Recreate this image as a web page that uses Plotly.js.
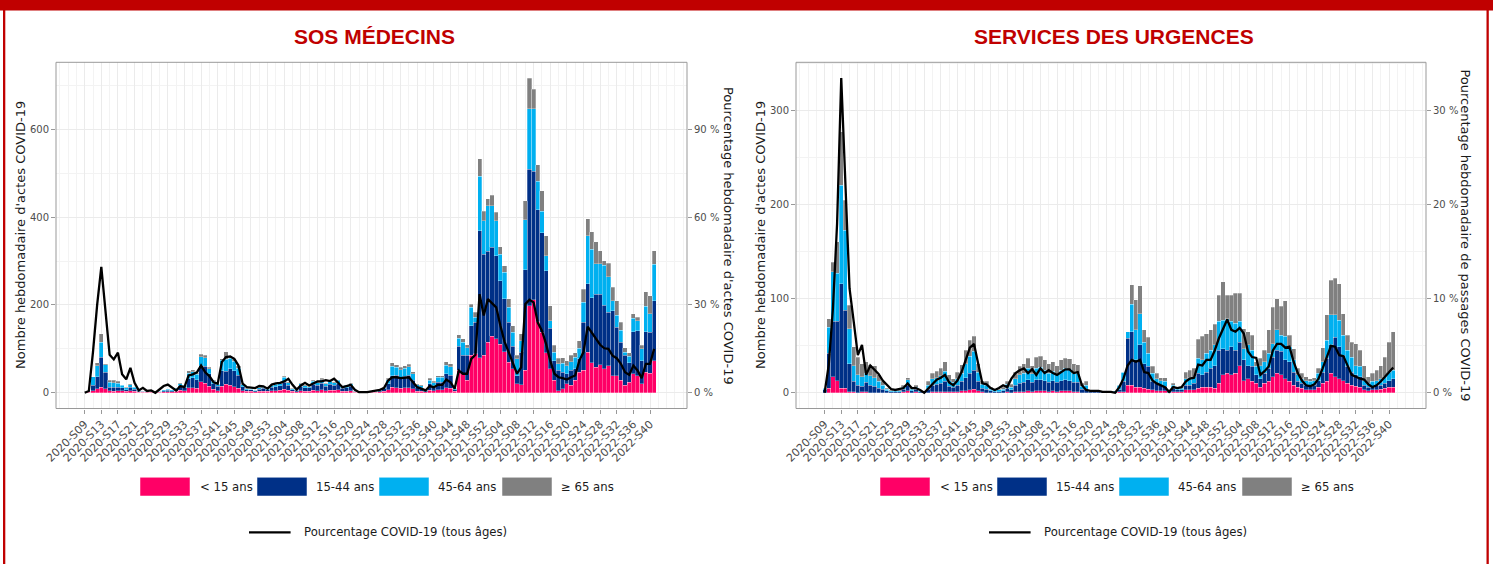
<!DOCTYPE html>
<html><head><meta charset="utf-8">
<script src="https://cdn.plot.ly/plotly-3.0.1.min.js"></script>
<style>html,body{margin:0;padding:0;background:#fff}#chart{width:1493px;height:564px}</style>
</head><body><div id="chart"></div>
<script>
// ---------- categories ----------
const weeks = [];
for (let w = 9; w <= 53; w++) weeks.push('2020-S' + String(w).padStart(2, '0'));
for (let w = 1; w <= 52; w++) weeks.push('2021-S' + String(w).padStart(2, '0'));
for (let w = 1; w <= 41; w++) weeks.push('2022-S' + String(w).padStart(2, '0'));

const tickLabels = ['2020-S09','2020-S13','2020-S17','2020-S21','2020-S25','2020-S29','2020-S33','2020-S37','2020-S41','2020-S45','2020-S49','2020-S53',
  '2021-S04','2021-S08','2021-S12','2021-S16','2021-S20','2021-S24','2021-S28','2021-S32','2021-S36','2021-S40','2021-S44','2021-S48','2021-S52',
  '2022-S04','2022-S08','2022-S12','2022-S16','2022-S20','2022-S24','2022-S28','2022-S32','2022-S36','2022-S40'];

const ageGroups = ['< 15 ans', '15-44 ans', '45-64 ans', '≥ 65 ans'];
const lineLabel = 'Pourcentage COVID-19 (tous âges)';

// ---------- SOS Médecins ----------
const sos_lt15 = [0,1,5,9,13,9,5,4,5,5,3,5,3,1,1,1,1,0,1,2,2,2,3,6,5,12,12,10,25,22,15,8,5,15,19,17,14,10,5,3,3,2,3,4,3,5,5,6,8,6,3,2,5,4,4,6,5,7,5,6,6,7,4,4,5,1,1,0,1,1,1,2,3,7,13,12,10,12,12,9,4,4,2,6,5,7,7,11,10,3,51,43,28,85,89,80,85,115,129,123,111,94,70,55,20,18,51,198,212,162,138,91,55,28,5,9,20,17,28,47,51,92,68,58,64,55,62,39,39,28,17,24,43,39,20,47,45,73];
const sos_15_44 = [0,2,12,27,68,38,8,9,8,6,4,8,5,3,2,1,2,1,1,3,4,3,5,10,8,20,22,20,36,38,28,13,10,35,30,38,36,30,9,4,4,3,5,6,4,8,9,10,16,11,4,4,10,8,7,13,12,15,10,13,11,14,6,8,10,2,1,1,1,1,2,4,6,14,26,28,25,26,28,20,9,8,4,14,11,17,17,32,30,4,55,42,57,68,72,289,231,207,202,189,144,120,91,51,19,74,229,311,293,255,227,187,92,45,46,38,23,34,27,30,110,156,149,167,161,144,121,148,110,87,69,44,96,102,53,92,93,137];
const sos_45_64 = [0,0,19,26,34,17,11,10,9,6,4,5,5,2,1,1,1,1,1,2,2,2,2,5,4,13,14,12,21,20,12,5,4,24,27,24,22,16,4,2,1,1,3,3,2,4,5,5,11,6,2,1,5,4,3,7,6,8,5,7,6,7,4,5,5,1,1,1,0,1,1,2,3,9,21,18,17,18,19,14,5,4,2,9,7,11,11,20,19,2,18,30,17,42,11,124,76,104,95,80,61,60,34,32,38,27,114,138,142,65,49,34,17,19,15,20,19,20,26,24,45,110,110,69,69,91,81,23,28,27,6,15,31,23,27,58,42,83];
const sos_ge65 = [0,0,0,6,19,2,4,5,4,1,2,2,1,1,1,0,0,0,0,0,1,0,1,2,1,5,5,3,6,5,3,2,1,4,17,4,5,6,1,1,1,1,1,1,1,1,1,1,3,2,1,1,2,2,1,2,2,3,2,2,2,2,1,1,2,1,0,0,0,0,1,1,1,3,8,6,6,6,6,5,2,2,1,4,3,4,4,8,7,1,8,8,7,7,11,40,22,16,24,19,17,15,19,15,8,15,43,70,45,38,46,46,34,16,13,13,11,14,10,18,30,39,40,50,29,11,31,30,33,19,10,8,10,8,8,33,41,30];
const sos_pct = [0,0.6,14,30,43,28,13,11.4,13.7,6.3,4.6,8.5,3.4,0.8,1.7,0.6,0.8,0,1.1,2.3,2.8,1.7,0.8,2.3,1.9,5.9,6.3,7,9.3,7,5.7,3.6,3.1,10.5,12.2,12.4,11.6,9.3,3.1,1.9,1.8,1.6,2.3,2.2,1.4,2.8,3.2,3.4,3.9,4.8,2.7,1.1,2.5,3.4,2.5,3.1,3.9,3.9,4.3,4,4.8,3.4,1.9,2.3,2.7,1,0.2,0.2,0.2,0.5,0.8,1,1.6,4.2,5.3,5.3,5,5.1,5.3,3.6,1.9,1.4,0.8,2.3,1.9,2.7,2.7,4.5,3.6,1.4,7.6,6.5,6.5,11.6,13,33.7,26.4,32,30.7,29.2,23,17.5,13.9,9.9,6.5,8.7,30.3,31.8,30.9,24,21.2,16.7,11,6.5,5.3,5,4.5,5.3,5.9,11,13.9,22.6,20.4,18.4,16.4,15.2,15,12.7,11.8,9.9,7,6.1,9.3,7.6,5,9.9,9.9,15];

// ---------- Services des urgences ----------
const urg_lt15 = [0,5,17,13,5,5,1,1,0,1,1,0,0,0,0,0,0,0,0,1,2,0,1,0,0,0,1,1,1,1,1,1,1,2,2,3,4,2,1,0,0,0,0,0,1,0,1,1,1,2,1,2,2,2,1,2,1,2,2,2,1,1,0,0,0,0,0,0,0,0,0,1,1,8,8,6,6,5,4,3,2,2,2,0,1,1,1,3,3,3,5,6,6,6,5,10,19,21,19,21,29,13,15,12,10,6,10,12,17,21,19,15,12,8,6,5,3,3,3,6,10,12,21,17,15,13,10,8,7,6,3,2,3,3,4,5,6,6];
const urg_15_44 = [3,37,59,63,111,83,30,11,8,6,10,8,7,5,4,2,1,1,1,3,6,2,3,1,1,4,7,8,9,11,6,5,7,10,14,18,20,10,4,4,2,1,1,2,4,3,7,9,10,12,10,12,12,11,10,11,10,11,12,11,10,10,4,4,1,1,1,1,1,1,1,2,11,50,57,29,45,26,24,9,8,6,5,2,4,2,2,5,5,7,16,13,16,20,24,35,28,24,30,24,25,22,14,16,9,9,11,14,21,24,25,20,21,14,6,5,5,4,5,7,12,25,30,42,34,27,18,14,12,11,5,4,3,5,4,5,7,9];
const urg_45_64 = [2,28,53,51,105,85,37,17,11,10,10,10,9,7,4,2,1,1,1,2,6,2,2,1,0,4,7,7,8,11,6,5,7,9,15,18,20,10,4,4,2,2,2,2,4,3,7,9,10,12,9,12,13,11,10,10,9,11,12,12,10,10,3,4,1,0,0,0,0,0,1,5,10,7,29,32,33,23,14,9,5,5,5,1,3,2,2,7,8,7,16,16,20,19,22,31,30,34,27,29,22,12,22,17,9,14,12,16,14,22,17,25,16,13,7,5,5,5,5,8,11,19,32,24,28,21,17,16,10,11,5,4,6,5,7,7,9,9];
const urg_ge65 = [0,9,10,34,57,32,25,20,19,14,12,12,13,7,4,1,1,0,1,2,2,2,2,1,0,4,6,7,8,10,6,4,7,9,14,17,16,9,4,4,2,1,1,2,3,3,7,9,10,11,9,12,12,11,10,10,9,11,11,11,10,9,3,4,1,0,0,0,0,0,0,0,0,0,21,32,30,13,17,7,6,3,4,0,2,1,1,7,8,9,20,25,21,22,22,28,41,25,28,32,30,21,14,16,5,8,12,25,39,33,31,38,12,12,7,6,4,3,3,5,15,27,37,39,39,23,16,16,23,17,16,7,9,11,14,21,32,41];
const urg_pct = [0,3,9,18,33.5,21.7,11.1,7.6,4,5.1,1.9,2.9,2.5,2,1.3,0.8,0.4,0.3,0.4,0.5,1,0.5,0.5,0.3,0,0.5,1,1.4,1.6,1.9,1.1,0.8,1.3,2.2,3.5,4.8,5.2,3.1,1,0.9,0.5,0.3,0.5,0.8,0.6,1.5,2.1,2.4,2.6,2.1,2.5,1.9,2.6,2.1,2.4,2.1,1.9,2.2,2.5,2.5,2.1,2.2,0.8,0.3,0.2,0.2,0.2,0.1,0.1,0.1,0,0.6,1.5,2.9,3.5,3.3,3.5,2.2,2.1,1.3,1,0.8,0.6,0.1,0.6,0.5,0.6,1.2,1.5,1.6,3,2.9,3.5,3.5,4.5,5.8,6.8,7.8,6.7,6.5,6.9,6.3,4.4,3.8,3.7,1.9,2.3,2.8,4.5,5.2,5.2,4.8,4.9,3.3,2.1,1.3,0.8,0.7,0.9,1.5,2.6,3.9,5,4.9,4,3.9,2.8,1.9,1.7,1.5,1.4,0.9,0.6,0.8,1.2,1.7,2.2,2.7];

// ---------- styling ----------
const ageColors = ['#ff0066', '#003087', '#00b0f0', '#808080'];
const W = 1493, H = 564;
const px = v => v / W;
const py = v => 1 - v / H;
const xs = weeks.map((_, i) => i);
const tickVals = tickLabels.map(l => weeks.indexOf(l));

const panels = [
  { title: 'SOS MÉDECINS', groups: [sos_lt15, sos_15_44, sos_45_64, sos_ge65], pct: sos_pct,
    xa: 'x', ya: 'y', ya2: 'y2', left: 56, right: 687, yRange: [-35.85, 752.85], yDtick: 200, factor: 600 / 90, pDtick: 30,
    yTitle: "Nombre hebdomadaire d'actes COVID-19", pTitle: "Pourcentage hebdomadaire d'actes COVID-19", dx: 0 },
  { title: 'SERVICES DES URGENCES', groups: [urg_lt15, urg_15_44, urg_45_64, urg_ge65], pct: urg_pct,
    xa: 'x2', ya: 'y3', ya2: 'y4', left: 796, right: 1426, yRange: [-16.75, 351.75], yDtick: 100, factor: 10, pDtick: 10,
    yTitle: "Nombre hebdomadaire d'actes COVID-19", pTitle: 'Pourcentage hebdomadaire de passages COVID-19', dx: 740 }
];

const plotTop = 62.3, plotBot = 408.5;
const yTickFont = { family: 'DejaVu Sans', size: 10, color: '#4d4d4d' };
const xTickFont = { family: 'DejaVu Sans', size: 11, color: '#4d4d4d' };
const gridCol = '#ebebeb', minorCol = '#f3f3f3', frameCol = '#999999';
const legendFont = { family: 'DejaVu Sans', size: 11.7, color: '#1a1a1a' };
const axisTitleFont = { family: 'DejaVu Sans', size: 13, color: '#1a1a1a' };

const traces = [];
const layout = {
  width: W, height: H, margin: { l: 0, r: 0, t: 0, b: 0 },
  paper_bgcolor: '#fff', plot_bgcolor: '#fff', barmode: 'stack', bargap: 0,
  showlegend: false, shapes: [], annotations: []
};

panels.forEach((p, k) => {
  p.groups.forEach((vals, g) => {
    traces.push({ type: 'bar', x: xs, y: vals, name: ageGroups[g], xaxis: p.xa, yaxis: p.ya,
      marker: { color: ageColors[g], line: { color: 'rgba(255,255,255,0.55)', width: 0.5 } },
      hoverinfo: 'skip' });
  });
  traces.push({ type: 'scatter', mode: 'lines', x: xs, y: p.pct, name: lineLabel, xaxis: p.xa, yaxis: p.ya2,
    line: { color: '#000', width: 2.3 }, hoverinfo: 'skip' });

  const xKey = k === 0 ? 'xaxis' : 'xaxis2';
  const yKey = k === 0 ? 'yaxis' : 'yaxis3';
  const y2Key = k === 0 ? 'yaxis2' : 'yaxis4';
  layout[xKey] = {
    domain: [px(p.left), px(p.right)], range: [-6.9, 144.9], anchor: p.ya,
    tickmode: 'array', tickvals: tickVals, ticktext: tickLabels, tickangle: -45,
    ticks: 'outside', ticklen: 4, tickwidth: 1, tickcolor: frameCol, tickfont: xTickFont,
    showgrid: true, gridcolor: gridCol, gridwidth: 1, zeroline: false, showline: false,
    minor: { tickmode: 'linear', tick0: 0, dtick: 2, showgrid: true, gridcolor: minorCol, ticks: '' },
    fixedrange: true
  };
  layout[yKey] = {
    domain: [py(plotBot), py(plotTop)], range: p.yRange, anchor: p.xa,
    tickmode: 'linear', tick0: 0, dtick: p.yDtick, ticks: 'outside', ticklen: 4, tickcolor: frameCol,
    tickfont: yTickFont, showgrid: true, gridcolor: gridCol, zeroline: false, showline: false,
    minor: { tickmode: 'linear', tick0: 0, dtick: p.yDtick / 2, showgrid: true, gridcolor: minorCol, ticks: '' },
    fixedrange: true
  };
  layout[y2Key] = {
    overlaying: p.ya, side: 'right', anchor: p.xa,
    range: [p.yRange[0] / p.factor, p.yRange[1] / p.factor],
    tickmode: 'linear', tick0: 0, dtick: p.pDtick, ticksuffix: ' %', ticks: 'outside', ticklen: 4, tickcolor: frameCol,
    tickfont: yTickFont, showgrid: false, zeroline: false, showline: false, fixedrange: true
  };

  // frame
  layout.shapes.push({ type: 'rect', xref: 'paper', yref: 'paper', x0: px(p.left), x1: px(p.right),
    y0: py(plotBot), y1: py(plotTop), line: { color: frameCol, width: 1 }, fillcolor: 'rgba(0,0,0,0)' });

  // panel title
  layout.annotations.push({ xref: 'paper', yref: 'paper', x: px(374 + p.dx), y: py(36.5),
    text: p.title, showarrow: false, xanchor: 'center', yanchor: 'middle',
    font: { family: 'Liberation Sans, Arial, sans-serif', size: 21, color: '#c00000', weight: 'bold' } });

  // axis titles
  layout.annotations.push({ xref: 'paper', yref: 'paper', x: px(k ? 760.5 : 20.5), y: py((plotTop + plotBot) / 2),
    text: p.yTitle, textangle: -90, showarrow: false, xanchor: 'center', yanchor: 'middle', font: axisTitleFont });
  layout.annotations.push({ xref: 'paper', yref: 'paper', x: px(k ? 1466 : 728.5), y: py((plotTop + plotBot) / 2),
    text: p.pTitle, textangle: 90, showarrow: false, xanchor: 'center', yanchor: 'middle', font: axisTitleFont });

  // legend (drawn manually)
  const sw = [[140, 190], [257, 307], [379, 429], [502, 552]];
  const lx = [197.6, 313.5, 435.6, 558.5];
  ageGroups.forEach((name, g) => {
    layout.shapes.push({ type: 'rect', xref: 'paper', yref: 'paper', x0: px(sw[g][0] + p.dx), x1: px(sw[g][1] + p.dx),
      y0: py(496), y1: py(477.3), fillcolor: ageColors[g], line: { color: '#ffffff', width: 0.5 } });
    layout.annotations.push({ xref: 'paper', yref: 'paper', x: px(lx[g] + p.dx), y: py(486.8), text: name,
      showarrow: false, xanchor: 'left', yanchor: 'middle', font: legendFont });
  });
  layout.shapes.push({ type: 'line', xref: 'paper', yref: 'paper', x0: px(249 + p.dx), x1: px(290.6 + p.dx),
    y0: py(532.3), y1: py(532.3), line: { color: '#000', width: 2.3 } });
  layout.annotations.push({ xref: 'paper', yref: 'paper', x: px(302 + p.dx), y: py(532.3), text: lineLabel,
    showarrow: false, xanchor: 'left', yanchor: 'middle', font: legendFont });
});

// red page border
layout.shapes.push({ type: 'rect', xref: 'paper', yref: 'paper', x0: 0, x1: 1, y0: py(10.5), y1: 1, fillcolor: '#c00000', line: { width: 0 } });
layout.shapes.push({ type: 'rect', xref: 'paper', yref: 'paper', x0: px(3), x1: px(5.3), y0: 0, y1: 1, fillcolor: '#c00000', line: { width: 0 } });
layout.shapes.push({ type: 'rect', xref: 'paper', yref: 'paper', x0: px(1486.5), x1: px(1488.8), y0: 0, y1: 1, fillcolor: '#c00000', line: { width: 0 } });

Plotly.newPlot('chart', traces, layout, { displayModeBar: false, staticPlot: true });
</script></body></html>
